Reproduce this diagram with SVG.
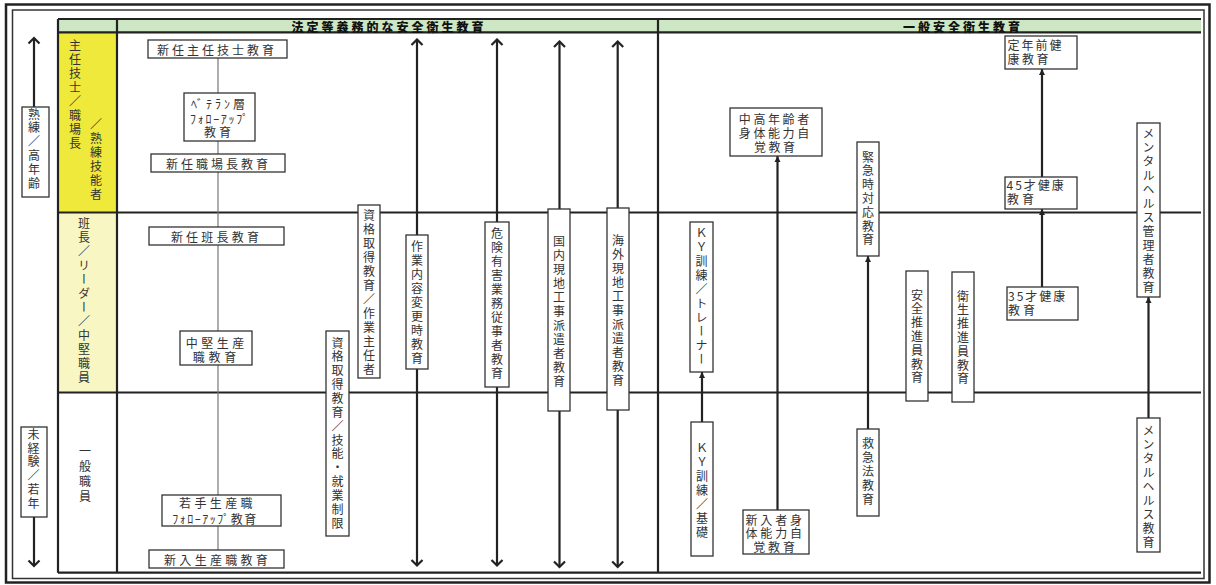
<svg xmlns="http://www.w3.org/2000/svg" width="1216" height="585" viewBox="0 0 1216 585">
<style>
.t{font-family:"Noto Sans CJK JP","Noto Sans",sans-serif;font-size:12px;fill:#333}
.h{font-family:"Noto Sans CJK JP","Noto Sans",sans-serif;font-size:12px;font-weight:900;fill:#111;letter-spacing:3px}
.v{writing-mode:vertical-rl;letter-spacing:2px}
.c{text-anchor:middle;dominant-baseline:central}
.s{dominant-baseline:central}
.box{fill:#fff;stroke:#333;stroke-width:1.3}
.grid{stroke:#222;stroke-width:2.2;fill:none}
.arr{stroke:#222;stroke-width:2.2;fill:none}
.thin{stroke:#777;stroke-width:1.2;fill:none}
</style>
<defs>
<marker id="open" markerUnits="userSpaceOnUse" viewBox="-8 -8 10 16" markerWidth="10" markerHeight="16" refX="0" refY="0" orient="auto-start-reverse">
<path d="M-5.5,-5.5 L0,0 L-5.5,5.5" fill="none" stroke="#222" stroke-width="2.2"/>
</marker>
<marker id="fill" markerUnits="userSpaceOnUse" viewBox="-7 -4 8 8" markerWidth="8" markerHeight="8" refX="0" refY="0" orient="auto">
<path d="M-6,-3 L0,0 L-6,3 Z" fill="#222"/>
</marker>
</defs>
<rect width="1216" height="585" fill="#fff"/>
<g id="frame">
<rect x="6" y="4.5" width="1203.5" height="578" fill="none" stroke="#222" stroke-width="2.5"/>
<rect x="12.5" y="10" width="1191.5" height="568.5" fill="none" stroke="#333" stroke-width="1.5"/>
<rect x="58" y="19" width="1143" height="13" fill="#cde6c3"/>
<rect x="58" y="32" width="59" height="180" fill="#efe93c"/>
<rect x="58" y="212" width="59" height="180" fill="#f8f7c3"/>
<path class="grid" d="M58,19 H1201 M58,32.3 H1201 M58,212.5 H1201 M58,392.5 H1201 M58,572.7 H1201 M58,19 V572.7 M117,19 V572.7 M658,19 V572.7"/>
<text class="h s" x="291.5" y="26">法定等義務的な安全衛生教育</text>
<text class="h s" x="903" y="26">一般安全衛生教育</text>
<text class="t v" x="75" y="39">主任技士／職場長</text>
<text class="t v" x="96" y="118">／熟練技能者</text>
<text class="t v" x="84" y="217">班長／リーダー／中堅職員</text>
<text class="t v" x="85" y="445.7" style="letter-spacing:3px">一般職員</text>
</g>
<g id="connectors">
<line class="thin" x1="218" y1="58" x2="218" y2="550"/>
<line class="arr" x1="34" y1="107" x2="34" y2="38" marker-end="url(#open)"/>
<line class="arr" x1="34" y1="517" x2="34" y2="566" marker-end="url(#open)"/>
<line class="arr" x1="417" y1="565.5" x2="417" y2="39.5" marker-start="url(#open)" marker-end="url(#open)"/>
<line class="arr" x1="497" y1="565.5" x2="497" y2="39.5" marker-start="url(#open)" marker-end="url(#open)"/>
<line class="arr" x1="559.5" y1="567" x2="559.5" y2="41.5" marker-start="url(#open)" marker-end="url(#open)"/>
<line class="arr" x1="617.7" y1="567" x2="617.7" y2="41.5" marker-start="url(#open)" marker-end="url(#open)"/>
<line class="arr" x1="702" y1="422" x2="702" y2="372" marker-end="url(#fill)"/>
<line class="arr" x1="777.5" y1="510" x2="777.5" y2="156" marker-end="url(#fill)"/>
<line class="arr" x1="868" y1="429" x2="868" y2="256" marker-end="url(#fill)"/>
<line class="arr" x1="1042" y1="177" x2="1042" y2="69" marker-end="url(#fill)"/>
<line class="arr" x1="1042" y1="287" x2="1042" y2="209" marker-end="url(#fill)"/>
<line class="arr" x1="1148.5" y1="418" x2="1148.5" y2="297" marker-end="url(#fill)"/>
</g>
<g id="n-jukuren">
<rect class="box" x="22" y="107" width="27" height="90"/>
<text class="t v" x="34" y="108" style="letter-spacing:1.8px">熟練／高年齢</text>
</g>
<g id="n-mikeiken">
<rect class="box" x="21" y="427" width="26" height="90"/>
<text class="t v" x="33.5" y="428.5" style="letter-spacing:1.7px">未経験／若年</text>
</g>
<g id="n-shinnin-shunin">
<rect class="box" x="148" y="40" width="139" height="18"/>
<text class="t c" x="217" y="49" style="letter-spacing:3px">新任主任技士教育</text>
</g>
<g id="n-veteran">
<rect class="box" x="184" y="93" width="71" height="48"/>
<text class="t c"><tspan x="219.5" y="102.5" style="letter-spacing:3px">ﾍﾞﾃﾗﾝ層</tspan><tspan x="220" y="117.5" style="letter-spacing:1.7px">ﾌｫﾛｰｱｯﾌﾟ</tspan><tspan x="219" y="130.5" style="letter-spacing:3px">教育</tspan></text>
</g>
<g id="n-shinnin-shokuba">
<rect class="box" x="151" y="154" width="134" height="18"/>
<text class="t c" x="218.5" y="163" style="letter-spacing:3px">新任職場長教育</text>
</g>
<g id="n-shinnin-hancho">
<rect class="box" x="149" y="227" width="135" height="18"/>
<text class="t c" x="216.5" y="236" style="letter-spacing:3.2px">新任班長教育</text>
</g>
<g id="n-chuken">
<rect class="box" x="180" y="331" width="72" height="34"/>
<text class="t c"><tspan x="216.8" y="342" style="letter-spacing:3.5px">中堅生産</tspan><tspan x="216.3" y="356" style="letter-spacing:3.7px">職教育</tspan></text>
</g>
<g id="n-wakate">
<rect class="box" x="162" y="495" width="119" height="31"/>
<text class="t c"><tspan x="217.5" y="502" style="letter-spacing:3.4px">若手生産職</tspan><tspan x="215" y="517.5" style="letter-spacing:1.5px">ﾌｫﾛｰｱｯﾌﾟ教育</tspan></text>
</g>
<g id="n-shinnyu">
<rect class="box" x="149" y="550" width="135" height="18"/>
<text class="t c" x="217.6" y="559" style="letter-spacing:3.3px">新入生産職教育</text>
</g>
<g id="n-shikaku-ginou">
<rect class="box" x="326" y="331" width="23" height="205"/>
<text class="t v" x="337.5" y="337" style="letter-spacing:1.85px">資格取得教育／技能・就業制限</text>
</g>
<g id="n-shikaku-sagyo">
<rect class="box" x="358" y="205" width="22" height="173"/>
<text class="t v" x="369" y="209">資格取得教育／作業主任者</text>
</g>
<g id="n-sagyo-henko">
<rect class="box" x="406" y="235" width="22" height="134"/>
<text class="t v" x="417" y="240">作業内容変更時教育</text>
</g>
<g id="n-kiken">
<rect class="box" x="485" y="222" width="24" height="165"/>
<text class="t v" x="497" y="227">危険有害業務従事者教育</text>
</g>
<g id="n-kokunai">
<rect class="box" x="548" y="209" width="22" height="202"/>
<text class="t v" x="559" y="235">国内現地工事派遣者教育</text>
</g>
<g id="n-kaigai">
<rect class="box" x="607" y="208" width="22" height="202"/>
<text class="t v" x="618" y="234">海外現地工事派遣者教育</text>
</g>
<g id="n-ky-trainer">
<rect class="box" x="690" y="222" width="23" height="150"/>
<text class="t v" x="701.5" y="227">ＫＹ訓練／トレーナー</text>
</g>
<g id="n-ky-kiso">
<rect class="box" x="691" y="422" width="22" height="134"/>
<text class="t v" x="702" y="442">ＫＹ訓練／基礎</text>
</g>
<g id="n-chukounen">
<rect class="box" x="730" y="108" width="92" height="48"/>
<text class="t c" style="letter-spacing:2.6px"><tspan x="775.3" y="118">中高年齢者</tspan><tspan x="775.3" y="132">身体能力自</tspan><tspan x="775.8" y="146">覚教育</tspan></text>
</g>
<g id="n-shinnyusha">
<rect class="box" x="743" y="510" width="66" height="44"/>
<text class="t c" style="letter-spacing:2.9px"><tspan x="775.2" y="518.5">新入者身</tspan><tspan x="775.2" y="532">体能力自</tspan><tspan x="775.5" y="545.5">覚教育</tspan></text>
</g>
<g id="n-kinkyu">
<rect class="box" x="857" y="142" width="22" height="114"/>
<text class="t v" x="868" y="151" style="letter-spacing:1.8px">緊急時対応教育</text>
</g>
<g id="n-kyukyu">
<rect class="box" x="857" y="429" width="22" height="87"/>
<text class="t v" x="868" y="437" style="letter-spacing:2.2px">救急法教育</text>
</g>
<g id="n-anzen">
<rect class="box" x="906" y="271" width="22" height="130"/>
<text class="t v" x="917" y="289" style="letter-spacing:1.8px">安全推進員教育</text>
</g>
<g id="n-eisei">
<rect class="box" x="952" y="272" width="22" height="130"/>
<text class="t v" x="963" y="290" style="letter-spacing:1.8px">衛生推進員教育</text>
</g>
<g id="n-teinen">
<rect class="box" x="1005" y="36" width="72" height="33"/>
<text class="t s"><tspan x="1007.5" y="44" style="letter-spacing:2px">定年前健</tspan><tspan x="1007.5" y="58" style="letter-spacing:2.5px">康教育</tspan></text>
</g>
<g id="n-45">
<rect class="box" x="1005" y="177" width="72" height="32"/>
<text class="t s"><tspan x="1006.5" y="183.5" style="letter-spacing:2px">45才健康</tspan><tspan x="1007" y="198" style="letter-spacing:3px">教育</tspan></text>
</g>
<g id="n-35">
<rect class="box" x="1007" y="287" width="71" height="33"/>
<text class="t s"><tspan x="1008" y="295" style="letter-spacing:2px">35才健康</tspan><tspan x="1008" y="309" style="letter-spacing:3px">教育</tspan></text>
</g>
<g id="n-mental-kanri">
<rect class="box" x="1137" y="123" width="23" height="174"/>
<text class="t v" x="1148.5" y="127">メンタルヘルス管理者教育</text>
</g>
<g id="n-mental">
<rect class="box" x="1137" y="418" width="23" height="134"/>
<text class="t v" x="1148.5" y="424">メンタルヘルス教育</text>
</g>
</svg>
